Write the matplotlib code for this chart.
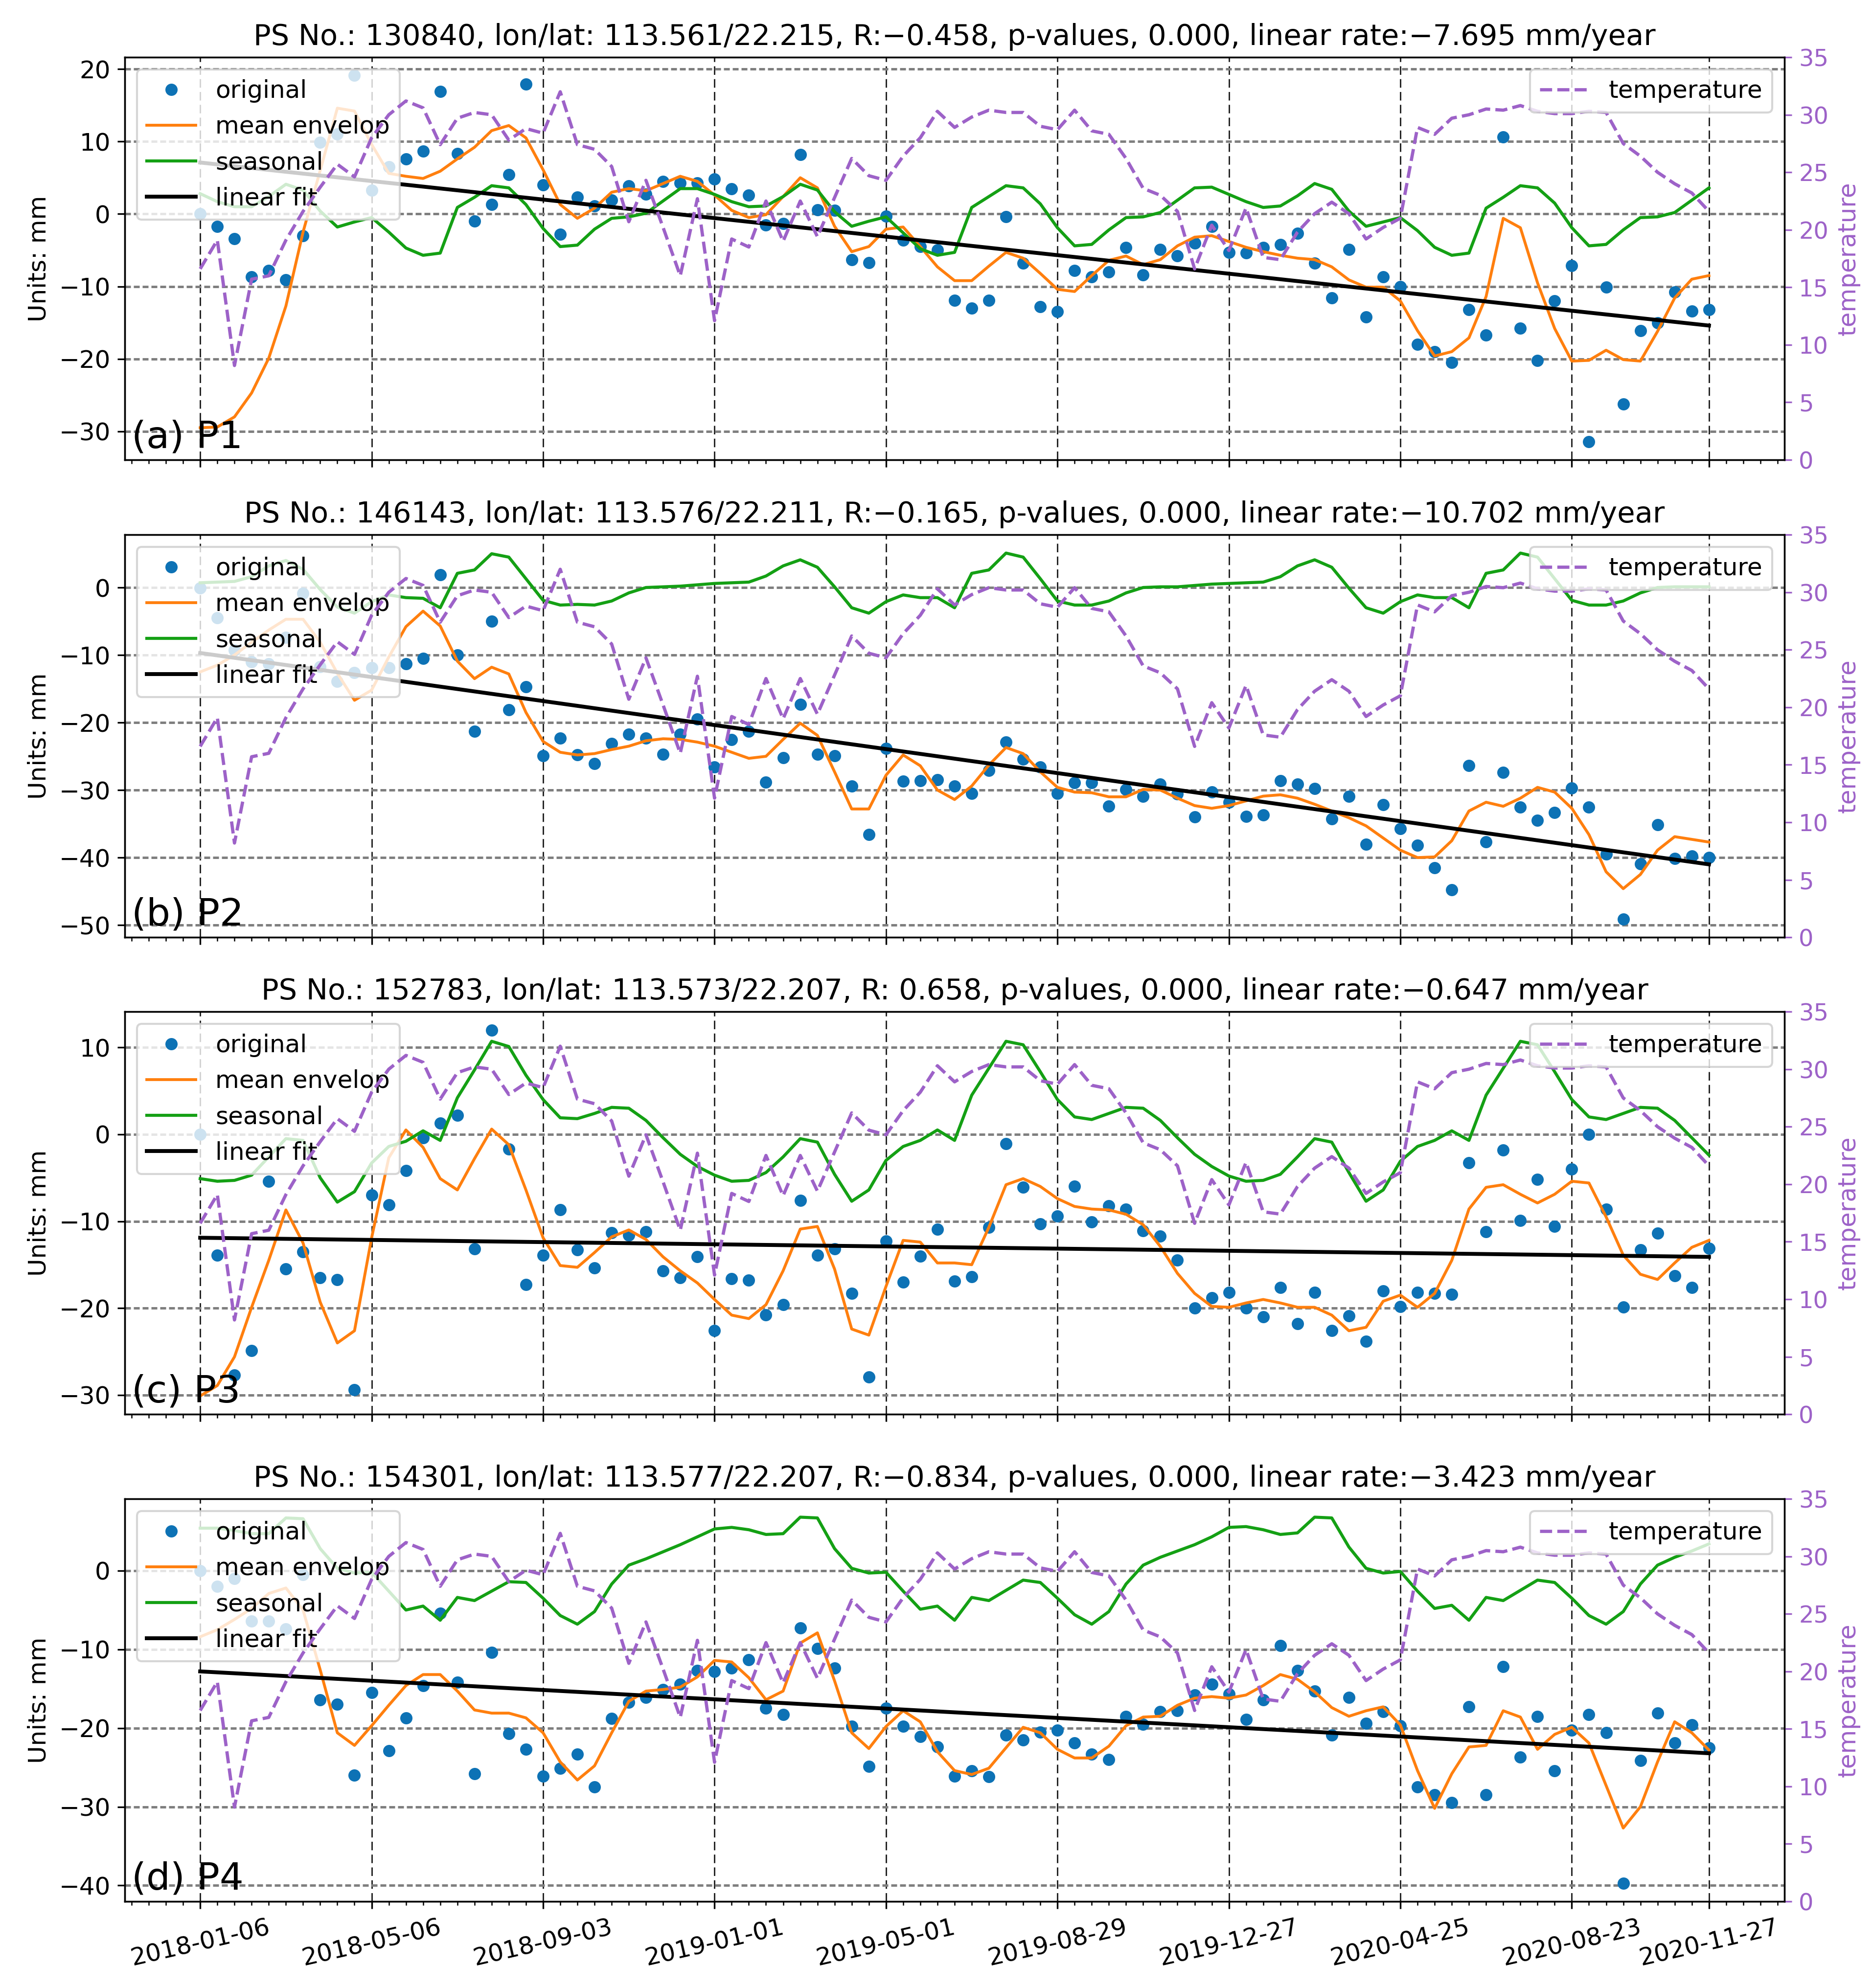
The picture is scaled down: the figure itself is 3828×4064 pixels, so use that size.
import numpy as np
import pandas as pd
import matplotlib
matplotlib.use('Agg')
import matplotlib.pyplot as plt
import matplotlib.dates as mdates
from matplotlib.ticker import FixedLocator

# acquisition dates (12-day revisit)
dates = pd.date_range('2018-01-06', '2020-11-27', freq='12D')
tick_labels = ['2018-01-06', '2018-05-06', '2018-09-03', '2019-01-01', '2019-05-01',
               '2019-08-29', '2019-12-27', '2020-04-25', '2020-08-23', '2020-11-27']

temperature = [16.6, 19.1, 8.2, 15.7, 16.0, 19.1, 21.6, 23.7, 25.7, 24.6,
               28.0, 30.0, 31.2, 30.6, 27.4, 29.7, 30.2, 30.0, 27.8, 28.8,
               28.4, 32.0, 27.4, 27.0, 25.5, 20.7, 24.3, 20.2, 16.0, 22.7,
               12.1, 19.2, 18.5, 22.5, 19.0, 22.5, 19.4, 22.8, 26.2, 24.7,
               24.3, 26.4, 28.0, 30.3, 28.9, 29.8, 30.4, 30.2, 30.2, 29.0,
               28.7, 30.4, 28.6, 28.3, 26.2, 23.6, 23.0, 21.6, 16.6, 20.4,
               18.2, 21.9, 17.6, 17.4, 19.8, 21.4, 22.4, 21.4, 19.2, 20.2,
               21.0, 28.9, 28.3, 29.7, 30.0, 30.5, 30.4, 30.8, 30.3, 30.1,
               30.1, 30.3, 30.2, 27.5, 26.4, 25.0, 24.0, 23.2, 21.6]

# P1
p1_original = [0.0, -1.7, -3.4, -8.7, -7.8, -9.1, -3.0, 9.9, 11.0, 19.1,
               3.3, 6.5, 7.6, 8.7, 16.9, 8.3, -1.0, 1.3, 5.4, 17.9,
               4.0, -2.8, 2.3, 1.1, 1.9, 3.9, 2.7, 4.5, 4.3, 4.3,
               4.8, 3.5, 2.6, -1.5, -1.3, 8.2, 0.6, 0.5, -6.3, -6.7,
               -0.3, -3.6, -4.5, -5.0, -11.9, -13.0, -11.9, -0.4, -6.8, -12.8,
               -13.5, -7.8, -8.7, -8.0, -4.6, -8.4, -4.9, -5.8, -4.0, -1.7,
               -5.3, -5.4, -4.6, -4.2, -2.7, -6.8, -11.6, -4.9, -14.2, -8.7,
               -10.0, -18.0, -19.0, -20.5, -13.2, -16.7, 10.6, -15.8, -20.2, -12.0,
               -7.1, -31.4, -10.1, -26.2, -16.1, -15.0, -10.8, -13.4, -13.2]
p1_envelop = [-29.5, -29.4, -28.0, -24.7, -19.9, -12.7, -2.5, 6.0, 14.6, 14.2,
              9.6, 5.6, 5.2, 4.9, 5.9, 7.6, 9.2, 11.5, 12.2, 10.5,
              6.1, 1.3, -0.6, 0.8, 3.0, 3.5, 3.2, 4.2, 5.2, 4.5,
              2.6, 0.5, -0.5, -0.1, 2.4, 5.0, 3.6, -1.7, -5.2, -4.5,
              -2.1, -1.8, -4.5, -7.3, -9.2, -9.2, -7.2, -5.3, -6.1, -8.2,
              -10.4, -10.7, -8.5, -6.4, -5.8, -7.0, -6.3, -4.4, -3.2, -3.0,
              -3.8, -4.6, -5.2, -5.7, -6.1, -6.3, -7.3, -9.1, -10.1, -10.1,
              -12.0, -16.1, -19.6, -19.0, -17.1, -11.4, -0.6, -1.9, -9.5, -15.8,
              -20.3, -20.2, -18.8, -20.1, -20.3, -16.2, -11.6, -9.0, -8.5]
p1_seasonal = [2.8, 1.7, 1.0, 1.0, 2.4, 4.1, 3.3, 0.4, -1.8, -1.1,
               -0.5, -2.5, -4.7, -5.7, -5.4, 0.9, 2.3, 3.9, 3.6, 1.3,
               -2.0, -4.5, -4.3, -2.1, -0.6, -0.4, 0.1, 1.8, 3.5, 3.5,
               2.7, 1.7, 1.0, 1.1, 2.4, 4.1, 3.3, 0.3, -1.7, -1.0,
               -0.4, -2.6, -4.8, -5.7, -5.3, 0.9, 2.4, 3.9, 3.6, 1.4,
               -1.9, -4.4, -4.2, -2.2, -0.5, -0.4, 0.2, 1.9, 3.6, 3.7,
               2.7, 1.7, 0.9, 1.1, 2.5, 4.2, 3.4, 0.4, -1.7, -1.1,
               -0.5, -2.3, -4.6, -5.7, -5.4, 0.8, 2.3, 3.9, 3.6, 1.5,
               -1.9, -4.4, -4.2, -2.2, -0.5, -0.4, 0.2, 1.9, 3.6]
p1_fit = [7.1, -15.4]

# P2
p2_original = [-0.1, -4.5, -9.3, -11.0, -11.3, -7.4, -0.9, -11.7, -13.9, -12.6,
               -11.9, -11.9, -11.3, -10.5, 1.9, -10.0, -21.3, -5.0, -18.1, -14.7,
               -24.9, -22.3, -24.8, -26.1, -23.1, -21.7, -22.3, -24.7, -21.7, -19.5,
               -26.6, -22.5, -21.3, -28.8, -25.2, -17.3, -24.7, -24.9, -29.4, -36.6,
               -23.8, -28.7, -28.6, -28.5, -29.4, -30.5, -27.1, -22.9, -25.4, -26.6,
               -30.5, -28.9, -28.9, -32.4, -29.9, -30.9, -29.1, -30.6, -34.0, -30.3,
               -31.8, -33.9, -33.7, -28.6, -29.1, -29.8, -34.3, -30.9, -38.0, -32.2,
               -35.7, -38.2, -41.5, -44.8, -26.4, -37.7, -27.4, -32.5, -34.5, -33.3,
               -29.7, -32.5, -39.5, -49.1, -40.9, -35.1, -40.1, -39.8, -40.0]
p2_envelop = [-12.5, -11.5, -10.0, -8.1, -6.3, -4.7, -4.7, -8.1, -12.7, -16.7,
              -15.2, -10.3, -5.8, -3.5, -5.7, -10.9, -13.5, -11.8, -12.8, -18.5,
              -22.8, -24.4, -24.8, -24.6, -24.0, -23.5, -22.7, -22.4, -22.5, -22.9,
              -23.5, -24.4, -25.3, -25.0, -22.5, -20.1, -21.9, -27.3, -32.8, -32.8,
              -27.8, -24.8, -26.4, -30.0, -31.4, -29.4, -26.3, -23.7, -24.6, -27.3,
              -29.6, -30.3, -30.4, -31.0, -31.0, -29.9, -30.0, -31.2, -32.3, -32.7,
              -32.3, -31.6, -30.9, -30.7, -31.2, -32.1, -33.1, -34.1, -35.3, -37.1,
              -38.9, -40.0, -39.9, -37.5, -33.1, -31.8, -32.4, -31.2, -29.6, -30.3,
              -32.7, -36.6, -42.1, -44.6, -42.5, -38.9, -36.9, -37.3, -37.7]
p2_seasonal = [0.7, 0.8, 0.9, 1.6, 3.2, 4.0, 2.7, -0.3, -2.9, -3.8,
               -2.1, -1.1, -1.5, -1.6, -3.0, 2.1, 2.6, 5.0, 4.5, 1.3,
               -1.9, -2.6, -2.5, -2.6, -2.0, -0.8, 0.0, 0.1, 0.2, 0.4,
               0.6, 0.7, 0.8, 1.7, 3.2, 4.1, 3.0, 0.1, -3.0, -3.8,
               -2.1, -1.1, -1.5, -1.5, -3.0, 2.1, 2.6, 5.1, 4.5, 1.3,
               -2.0, -2.6, -2.6, -2.0, -0.8, 0.0, 0.1, 0.1, 0.3, 0.5,
               0.6, 0.7, 0.8, 1.6, 3.2, 4.1, 3.0, -0.1, -3.0, -3.8,
               -2.1, -1.1, -1.5, -1.5, -3.0, 2.1, 2.6, 5.1, 4.5, 1.3,
               -1.9, -2.6, -2.6, -2.0, -0.8, 0.0, 0.1, 0.1, 0.1]
p2_fit = [-9.7, -41.0]

# P3
p3_original = [0.0, -13.9, -27.7, -24.9, -5.4, -15.5, -13.5, -16.5, -16.7, -29.4,
               -7.0, -8.1, -4.2, -0.4, 1.3, 2.2, -13.2, 12.0, -1.7, -17.3,
               -13.9, -8.7, -13.3, -15.4, -11.3, -11.6, -11.2, -15.7, -16.5, -14.1,
               -22.6, -16.6, -16.8, -20.8, -19.6, -7.6, -13.9, -13.2, -18.3, -27.9,
               -12.3, -17.0, -14.0, -10.9, -16.9, -16.4, -10.7, -1.1, -6.1, -10.3,
               -9.4, -6.0, -10.1, -8.2, -8.6, -11.1, -11.7, -14.5, -20.0, -18.8,
               -18.2, -20.0, -21.0, -17.6, -21.8, -18.2, -22.6, -20.9, -23.8, -18.0,
               -19.8, -18.2, -18.3, -18.4, -3.3, -11.2, -1.8, -9.9, -5.2, -10.6,
               -4.0, 0.0, -8.6, -19.9, -13.3, -11.4, -16.3, -17.6, -13.1]
p3_envelop = [-30.1, -28.9, -25.6, -19.9, -14.5, -8.7, -12.5, -19.3, -24.0, -22.6,
              -11.9, -2.7, 0.5, -1.5, -5.1, -6.4, -2.8, 0.6, -1.2, -6.4,
              -11.9, -15.1, -15.3, -13.6, -11.8, -11.0, -12.1, -14.1, -15.7, -17.1,
              -19.0, -20.8, -21.2, -19.6, -15.7, -10.9, -10.6, -15.5, -22.4, -23.1,
              -17.5, -12.2, -12.4, -14.8, -14.8, -15.0, -10.7, -5.8, -5.1, -6.0,
              -7.4, -8.3, -8.6, -8.7, -9.2, -10.4, -12.9, -16.0, -18.3, -19.8,
              -19.9, -19.4, -19.0, -19.4, -19.9, -19.9, -20.8, -22.6, -22.2, -19.2,
              -18.5, -19.9, -18.3, -14.5, -8.6, -6.1, -5.8, -6.9, -7.9, -6.9,
              -5.4, -5.6, -9.5, -13.9, -16.1, -16.7, -14.8, -13.0, -12.2]
p3_seasonal = [-5.1, -5.4, -5.3, -4.7, -2.6, -0.5, -0.7, -5.0, -7.8, -6.6,
               -3.3, -1.4, -0.8, 0.4, -0.7, 4.2, 7.4, 10.7, 10.1, 6.8,
               4.0, 1.9, 1.8, 2.4, 3.1, 3.0, 1.6, -0.4, -2.3, -3.7,
               -4.7, -5.4, -5.3, -4.4, -2.6, -0.5, -0.9, -4.6, -7.7, -6.4,
               -3.0, -1.4, -0.7, 0.5, -0.7, 4.5, 7.6, 10.7, 10.3, 7.2,
               4.0, 2.0, 1.7, 2.4, 3.1, 3.0, 1.6, -0.4, -2.3, -3.7,
               -4.8, -5.4, -5.3, -4.6, -2.6, -0.5, -0.9, -4.4, -7.7, -6.4,
               -3.1, -1.4, -0.7, 0.4, -0.7, 4.5, 7.6, 10.7, 10.3, 7.2,
               4.0, 2.0, 1.7, 2.4, 3.1, 3.0, 1.6, -0.4, -2.4]
p3_fit = [-11.9, -14.1]

# P4
p4_original = [0.0, -2.0, -1.0, -6.4, -6.4, -7.4, -0.5, -16.4, -17.0, -26.0,
               -15.5, -22.9, -18.7, -14.6, -5.4, -14.2, -25.8, -10.4, -20.7, -22.7,
               -26.1, -25.1, -23.3, -27.5, -18.8, -16.7, -16.1, -15.1, -14.4, -12.7,
               -12.8, -12.4, -11.3, -17.5, -18.3, -7.3, -9.9, -12.4, -19.8, -24.9,
               -17.5, -19.8, -21.1, -22.4, -26.1, -25.4, -26.2, -20.9, -21.5, -20.5,
               -20.3, -21.9, -23.3, -24.0, -18.5, -19.5, -17.9, -17.8, -15.8, -14.4,
               -15.7, -18.9, -16.4, -9.5, -12.7, -15.3, -20.9, -16.1, -19.4, -17.9,
               -19.7, -27.5, -28.5, -29.5, -17.3, -28.5, -12.2, -23.7, -18.5, -25.4,
               -20.3, -18.3, -20.6, -39.7, -24.1, -18.1, -21.9, -19.6, -22.5]
p4_envelop = [-8.4, -7.5, -6.2, -4.8, -2.9, -2.2, -5.0, -12.6, -20.6, -22.2,
              -19.7, -17.1, -14.6, -13.2, -13.2, -15.3, -17.7, -18.1, -18.1, -18.7,
              -20.6, -24.3, -26.6, -24.8, -20.6, -16.6, -15.3, -15.1, -14.8, -13.5,
              -11.4, -11.6, -13.6, -16.4, -15.3, -9.2, -7.9, -14.0, -20.6, -22.6,
              -19.8, -17.8, -19.2, -23.0, -25.4, -25.9, -25.1, -22.5, -19.9, -20.6,
              -22.7, -23.8, -23.8, -22.3, -19.7, -18.6, -18.5, -17.1, -16.2, -16.0,
              -16.2, -15.8, -14.6, -13.2, -13.8, -15.4, -17.4, -18.5, -17.8, -17.3,
              -19.6, -25.4, -30.2, -25.8, -22.4, -22.2, -17.8, -18.6, -22.7, -20.8,
              -19.9, -21.9, -27.3, -32.7, -30.0, -24.3, -19.2, -20.6, -22.8]
p4_seasonal = [5.4, 5.4, 5.1, 4.7, 4.7, 6.7, 6.6, 2.8, 0.3, -0.3,
               -0.2, -2.6, -5.0, -4.5, -6.3, -3.4, -3.8, -2.6, -1.4, -1.5,
               -3.5, -5.7, -6.8, -5.2, -1.7, 0.7, 1.5, 2.4, 3.3, 4.3,
               5.3, 5.5, 5.2, 4.6, 4.7, 6.8, 6.7, 2.8, 0.3, -0.3,
               -0.2, -2.6, -4.9, -4.5, -6.3, -3.4, -3.8, -2.5, -1.2, -1.5,
               -3.5, -5.6, -6.8, -5.2, -1.7, 0.7, 1.7, 2.5, 3.3, 4.3,
               5.5, 5.6, 5.2, 4.6, 4.8, 6.8, 6.7, 3.0, 0.3, -0.3,
               -0.1, -2.6, -4.8, -4.4, -6.3, -3.4, -3.8, -2.5, -1.2, -1.5,
               -3.5, -5.7, -6.8, -5.2, -1.7, 0.7, 1.7, 2.5, 3.4]
p4_fit = [-12.8, -23.2]

titles = [
    'PS No.: 130840, lon/lat: 113.561/22.215, R:\u22120.458, p-values, 0.000, linear rate:\u22127.695 mm/year',
    'PS No.: 146143, lon/lat: 113.576/22.211, R:\u22120.165, p-values, 0.000, linear rate:\u221210.702 mm/year',
    'PS No.: 152783, lon/lat: 113.573/22.207, R: 0.658, p-values, 0.000, linear rate:\u22120.647 mm/year',
    'PS No.: 154301, lon/lat: 113.577/22.207, R:\u22120.834, p-values, 0.000, linear rate:\u22123.423 mm/year',
]
panel_names = ['(a) P1', '(b) P2', '(c) P3', '(d) P4']

panels = [
    (p1_original, p1_envelop, p1_seasonal, p1_fit),
    (p2_original, p2_envelop, p2_seasonal, p2_fit),
    (p3_original, p3_envelop, p3_seasonal, p3_fit),
    (p4_original, p4_envelop, p4_seasonal, p4_fit),
]

BLUE = '#0d72b5'
ORANGE = '#ff7f0e'
GREEN = '#14a014'
PURPLE = '#9d62c8'

fig = plt.figure(figsize=(12.76, 13.5467), dpi=300)
bottoms = [0.7687, 0.5285, 0.2886, 0.04355]

minor_days = pd.date_range(dates[0] - pd.Timedelta(days=48), dates[-1] + pd.Timedelta(days=48), freq='12D')
major_days = pd.to_datetime(tick_labels)

for i, (orig, env, seas, fit) in enumerate(panels):
    ax = fig.add_axes([0.0666, bottoms[i], 0.8861, 0.2025])
    ax.plot(dates, orig, 'o', ms=5, color=BLUE, label='original')
    ax.plot(dates, env, '-', lw=1.4, color=ORANGE, label='mean envelop')
    ax.plot(dates, seas, '-', lw=1.5, color=GREEN, label='seasonal')
    ax.plot([dates[0], dates[-1]], fit, '-', lw=1.9, color='black', label='linear fit')

    ax.xaxis.set_major_locator(FixedLocator(mdates.date2num(major_days)))
    ax.xaxis.set_minor_locator(FixedLocator(mdates.date2num(minor_days)))
    ax.set_xticklabels(tick_labels)
    if i < 3:
        ax.tick_params(axis='x', labelbottom=False)
    else:
        plt.setp(ax.get_xticklabels(), rotation=13, ha='center', fontsize=12)
    ax.tick_params(axis='y', labelsize=12)
    ax.yaxis.grid(True, color='#7f7f7f', ls=(0, (2.4, 1.2)), lw=1.2)
    ax.xaxis.grid(True, color='#222222', ls=(0, (6, 3)), lw=0.7)
    ax.set_ylabel('Units: mm', fontsize=12)
    ax.set_title(titles[i], fontsize=14.2)
    ax.legend(loc='upper left', fontsize=12, framealpha=0.8)
    ax.text(0.004, 0.03, panel_names[i], transform=ax.transAxes, fontsize=18.5,
            ha='left', va='baseline')

    ax2 = ax.twinx()
    ax2.plot(dates, temperature, '--', lw=1.6, color=PURPLE, label='temperature')
    ax2.set_ylim(0, 35)
    ax2.set_yticks(range(0, 36, 5))
    ax2.tick_params(axis='y', colors=PURPLE, labelsize=11.5)
    ax2.spines['right'].set_color('black')
    ax2.set_ylabel('temperature', color=PURPLE, fontsize=12)
    ax2.legend(loc='upper right', fontsize=12, framealpha=0.8)

fig.savefig('out.png', dpi=300)
